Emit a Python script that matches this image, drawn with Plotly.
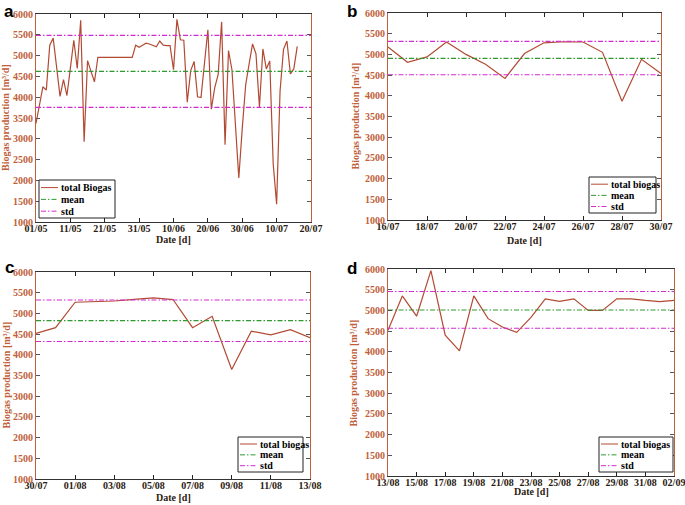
import pandas as pd
import plotly.graph_objects as go

# ---------------- data ----------------
start_a = "2012-05-01"
values_a = [3370, 3800, 4250, 4170, 5250, 5420, 4700, 4020, 4420, 4040,
            4700, 5370, 4690, 5850, 2930, 4880, 4620, 4370, 4960, 4960,
            4965, 4960, 4955, 4955, 4955, 4950, 4950, 4950, 4955, 5250,
            5200, 5250, 5300, 5280, 5250, 5210, 5350, 5250, 5240, 5240,
            4660, 5870, 5380, 5370, 3880, 4640, 4860, 4010, 3990, 4800,
            5620, 3710, 4230, 4550, 5810, 2860, 5120, 4660, 3400, 2060,
            3250, 4300, 4800, 5280, 5040, 3760, 5160, 4680, 4870, 2400,
            1430, 4150, 5150, 5350, 4560, 4680, 5220]
mean_a, upper_a, lower_a = 4620, 5485, 3755

start_b = "2012-07-16"
values_b = [5180, 4810, 4940, 5300, 5000, 4760, 4420, 5020, 5280, 5305,
            5300, 5050, 3870, 4880, 4540]
mean_b, upper_b, lower_b = 4905, 5315, 4510

start_c = "2012-07-30"
values_c = [4515, 4655, 5270, 5290, 5300, 5340, 5375, 5335, 4655, 4930,
            3645, 4570, 4480, 4605, 4415]
mean_c, upper_c, lower_c = 4825, 5325, 4320

start_d = "2012-08-13"
values_d = [4520, 5350, 4860, 5960, 4400, 4020, 5350, 4800, 4600, 4470,
            4830, 5280, 5220, 5280, 5000, 5000, 5280, 5280, 5240, 5210,
            5240]
mean_d, upper_d, lower_d = 5010, 5455, 4570

ranges = {
    "a": ("2012-05-01", "2012-07-20", 10),
    "b": ("2012-07-16", "2012-07-30", 2),
    "c": ("2012-07-30", "2012-08-13", 2),
    "d": ("2012-08-13", "2012-09-02", 2),
}
series_names = {"a": "total Biogas", "b": "total biogas", "c": "total biogas", "d": "total biogas"}
y_ticks = list(range(1000, 6001, 500))

# ---------------- style ----------------
W, H = 685, 505
LINE = "#b24a33"
GREEN = "#2f9a2f"
MAGENTA = "#d42ad4"
BROWN = "#c0603a"
SERIF = "Liberation Serif"
DASHDOT = "5px,2px,1.5px,2px"

boxes = {  # plot area in pixels: left, right, top, bottom
    "a": (36, 311, 14, 222),
    "b": (388, 661, 13, 220),
    "c": (36, 310, 272, 479),
    "d": (388, 674, 269, 476),
}
legend_box = {  # x0, y0, x1, y1 in pixels
    "a": (39, 180, 115, 218),
    "b": (589, 177, 656, 213),
    "c": (238, 437, 303, 472),
    "d": (599, 437, 673, 472),
}
letter_pos = {"a": (2, 0), "b": (345, 0), "c": (3, 255.5), "d": (345, 257)}
ytitle_x = {"a": 6, "b": 355, "c": 6, "d": 353}
xtitle_y = {"a": 239, "b": 240, "c": 497, "d": 491}

panels = {
    "a": (start_a, values_a, mean_a, upper_a, lower_a),
    "b": (start_b, values_b, mean_b, upper_b, lower_b),
    "c": (start_c, values_c, mean_c, upper_c, lower_c),
    "d": (start_d, values_d, mean_d, upper_d, lower_d),
}

def px(x):
    return x / W

def py(y):
    return 1 - y / H

fig = go.Figure()
layout = dict(width=W, height=H, margin=dict(l=0, r=0, t=0, b=0),
              paper_bgcolor="white", plot_bgcolor="white", showlegend=False,
              annotations=[], shapes=[])

for i, key in enumerate(["a", "b", "c", "d"]):
    n = i + 1
    sfx = "" if n == 1 else str(n)
    xa, ya = "x" + sfx, "y" + sfx
    start, vals, mean, up, lo = panels[key]
    dates = pd.date_range(start, periods=len(vals), freq="D")
    r0, r1, step = ranges[key]

    styles = [
        (series_names[key], dict(color=LINE, width=1.2)),
        ("mean", dict(color=GREEN, width=1.1, dash=DASHDOT)),
        ("std", dict(color=MAGENTA, width=1.1, dash=DASHDOT)),
    ]
    fig.add_trace(go.Scatter(x=dates, y=vals, mode="lines", name=styles[0][0],
                             line=styles[0][1], xaxis=xa, yaxis=ya))
    fig.add_trace(go.Scatter(x=[r0, r1], y=[mean, mean], mode="lines", name="mean",
                             line=styles[1][1], xaxis=xa, yaxis=ya))
    fig.add_trace(go.Scatter(x=[r0, r1, None, r0, r1], y=[up, up, None, lo, lo],
                             mode="lines", name="std", line=styles[2][1],
                             xaxis=xa, yaxis=ya))

    l, r, t, b = boxes[key]
    layout["xaxis" + sfx] = dict(
        domain=[px(l), px(r)], anchor=ya, type="date",
        range=[r0, r1], tick0=r0, dtick=step * 86400000, tickformat="%d/%m",
        ticks="inside", ticklen=4, tickcolor="#222", showline=True,
        linecolor="#333", linewidth=1, mirror="ticks", showgrid=False,
        zeroline=False, automargin=False, ticklabeloverflow="allow",
        ticklabelstandoff=-3,
        tickfont=dict(family=SERIF, size=10, color="#2a1a10", weight="bold"),
    )
    layout["yaxis" + sfx] = dict(
        domain=[py(b), py(t)], anchor=xa, range=[1000, 6000],
        tickvals=y_ticks, ticks="inside", ticklen=4, tickcolor="#555",
        showline=True, linecolor=BROWN, linewidth=1, mirror="ticks",
        showgrid=False, zeroline=False, automargin=False, ticklabeloverflow="allow",
        tickfont=dict(family=SERIF, size=10, color=BROWN, weight="bold"),
    )

    # legend box drawn with shapes + text
    x0, y0, x1, y1 = legend_box[key]
    layout["shapes"].append(dict(type="rect", xref="paper", yref="paper",
                                 x0=px(x0), x1=px(x1), y0=py(y1), y1=py(y0),
                                 line=dict(color="#222", width=1), fillcolor="white",
                                 layer="above"))
    hgt = y1 - y0
    for j, (name, st) in enumerate(styles):
        yy = y0 + hgt * (0.2 + 0.31 * j)
        layout["shapes"].append(dict(type="line", xref="paper", yref="paper",
                                     x0=px(x0 + 2), x1=px(x0 + 19), y0=py(yy), y1=py(yy),
                                     line=dict(color=st["color"], width=1,
                                               dash=st.get("dash", "solid")),
                                     layer="above"))
        layout["annotations"].append(dict(
            text=name, x=px(x0 + 20), y=py(yy), xref="paper", yref="paper",
            xanchor="left", yanchor="middle", showarrow=False,
            font=dict(family=SERIF, size=10, color="black", weight="bold")))

    # panel letter
    lx, ly = letter_pos[key]
    layout["annotations"].append(dict(
        text=key, x=px(lx), y=py(ly), xref="paper", yref="paper",
        xanchor="left", yanchor="top", showarrow=False,
        font=dict(family="Liberation Sans", size=17, color="black", weight="bold")))
    # y title
    layout["annotations"].append(dict(
        text="Biogas production [m³/d]", x=px(ytitle_x[key]), y=py((t + b) / 2),
        xref="paper", yref="paper", xanchor="center", yanchor="middle",
        textangle=-90, showarrow=False,
        font=dict(family=SERIF, size=10, color=BROWN, weight="bold")))
    # x title
    layout["annotations"].append(dict(
        text="Date [d]", x=px((l + r) / 2), y=py(xtitle_y[key]),
        xref="paper", yref="paper", xanchor="center", yanchor="middle",
        showarrow=False,
        font=dict(family=SERIF, size=10, color="#2a1a10", weight="bold")))

fig.update_layout(**layout)
fig.write_html(
    "out.html",
    config={"displayModeBar": False},
    post_script="document.body.style.margin='0';document.body.style.overflow='hidden';",
)
